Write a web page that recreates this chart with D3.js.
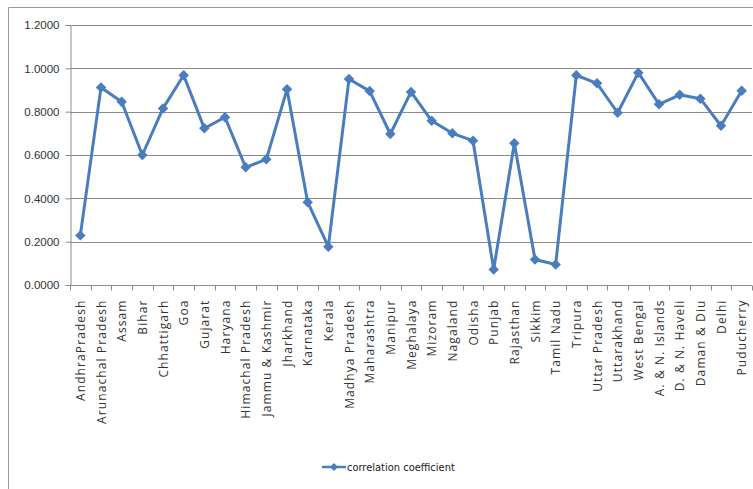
<!DOCTYPE html>
<html>
<head>
<meta charset="utf-8">
<script src="https://cdn.jsdelivr.net/npm/d3@7/dist/d3.min.js"></script>
<style>
  html, body { margin: 0; padding: 0; background: #fff; }
  svg { display: block; }
</style>
</head>
<body>
<svg id="chart" width="753" height="489"></svg>
<script>
// State / UT names along the category axis
const states = [
  "AndhraPradesh", "Arunachal Pradesh", "Assam", "Bihar", "Chhattigarh", "Goa",
  "Gujarat", "Haryana", "Himachal Pradesh", "Jammu & Kashmir", "Jharkhand",
  "Karnataka", "Kerala", "Madhya Pradesh", "Maharashtra", "Manipur", "Meghalaya",
  "Mizoram", "Nagaland", "Odisha", "Punjab", "Rajasthan", "Sikkim", "Tamil Nadu",
  "Tripura", "Uttar Pradesh", "Uttarakhand", "West Bengal", "A. & N. Islands",
  "D. & N. Haveli", "Daman & Diu", "Delhi", "Puducherry"
];

// Correlation coefficient for each state / UT
const correlation = [
  0.229, 0.912, 0.846, 0.600, 0.815, 0.968,
  0.723, 0.774, 0.543, 0.580, 0.903,
  0.382, 0.177, 0.951, 0.895, 0.697, 0.891,
  0.758, 0.700, 0.666, 0.072, 0.654, 0.118, 0.095,
  0.968, 0.931, 0.795, 0.980, 0.834,
  0.878, 0.860, 0.735, 0.897
];

// Value-axis ticks
const yTicks = [0, 0.2, 0.4, 0.6, 0.8, 1.0, 1.2];

const seriesName = "correlation coefficient";

const svg = d3.select("#chart");
const lineColor = "#4a7dbd";
const gridColor = "#8c8c8c";

// Outer chart frame (top and left edges visible)
svg.append("path")
  .attr("d", "M8.5,489 L8.5,7.5 L753,7.5")
  .attr("fill", "none")
  .attr("stroke", "#9a9a9a")
  .attr("stroke-width", 1);

const plot = { left: 70, right: 752, top: 25, bottom: 285 };

const x = d3.scaleBand()
  .domain(states)
  .range([plot.left, plot.right]);

const y = d3.scaleLinear()
  .domain([0, 1.2])
  .range([plot.bottom, plot.top]);

// Horizontal gridlines
svg.append("g")
  .selectAll("line")
  .data(yTicks.filter(d => d > 0))
  .join("line")
  .attr("x1", plot.left)
  .attr("x2", plot.right)
  .attr("y1", d => Math.round(y(d)) + 0.5)
  .attr("y2", d => Math.round(y(d)) + 0.5)
  .attr("stroke", gridColor)
  .attr("stroke-width", 1);

// Value axis
const yAxis = d3.axisLeft(y)
  .tickValues(yTicks)
  .tickFormat(d3.format(".4f"))
  .tickSize(5)
  .tickPadding(6);

const gy = svg.append("g")
  .attr("transform", `translate(${plot.left + 0.5},0)`)
  .call(yAxis);
gy.select(".domain").attr("stroke", gridColor);
gy.selectAll(".tick line").attr("stroke", gridColor);
gy.selectAll(".tick text")
  .attr("fill", "#333")
  .style("font-family", "'Liberation Sans', Arial, sans-serif")
  .style("font-size", "11.5px");

// Category axis with ticks between categories
const gx = svg.append("g")
  .attr("transform", `translate(0,${Math.round(y(0)) + 0.5})`);
gx.append("line")
  .attr("x1", plot.left)
  .attr("x2", plot.right)
  .attr("stroke", gridColor);
gx.selectAll("line.tk")
  .data(d3.range(states.length + 1))
  .join("line")
  .attr("class", "tk")
  .attr("x1", i => Math.round(plot.left + i * x.step()) + 0.5)
  .attr("x2", i => Math.round(plot.left + i * x.step()) + 0.5)
  .attr("y1", 0)
  .attr("y2", 5)
  .attr("stroke", gridColor);

// Rotated category labels
gx.selectAll("text")
  .data(states)
  .join("text")
  .attr("transform", d => `translate(${x(d) + x.bandwidth() / 2 + 4.5},14) rotate(-90)`)
  .attr("text-anchor", "end")
  .attr("fill", "#333")
  .style("font-family", "'Open Sans', 'Liberation Sans', sans-serif")
  .style("font-size", "12px")
  .style("letter-spacing", "1.1px")
  .text(d => d);

// Series line
const pts = states.map((s, i) => [x(s) + x.bandwidth() / 2, y(correlation[i])]);

svg.append("path")
  .datum(pts)
  .attr("fill", "none")
  .attr("stroke", lineColor)
  .attr("stroke-width", 3)
  .attr("stroke-linejoin", "round")
  .attr("d", d3.line());

// Diamond markers
const diamond = d3.symbol().type(d3.symbolDiamond2).size(70);
svg.append("g")
  .selectAll("path")
  .data(pts)
  .join("path")
  .attr("transform", d => `translate(${d[0]},${d[1]})`)
  .attr("d", diamond)
  .attr("fill", lineColor);

// Legend
const lg = svg.append("g").attr("transform", "translate(322,467)");
lg.append("line")
  .attr("x1", 0).attr("x2", 24)
  .attr("stroke", lineColor)
  .attr("stroke-width", 2.5);
lg.append("path")
  .attr("transform", "translate(12,0)")
  .attr("d", d3.symbol().type(d3.symbolDiamond2).size(40))
  .attr("fill", lineColor);
lg.append("text")
  .attr("x", 25)
  .attr("y", 4)
  .attr("fill", "#222")
  .style("font-family", "'Liberation Sans Narrow', 'DejaVu Sans Condensed', sans-serif")
  .style("font-size", "11px")
  .text(seriesName);
</script>
</body>
</html>
